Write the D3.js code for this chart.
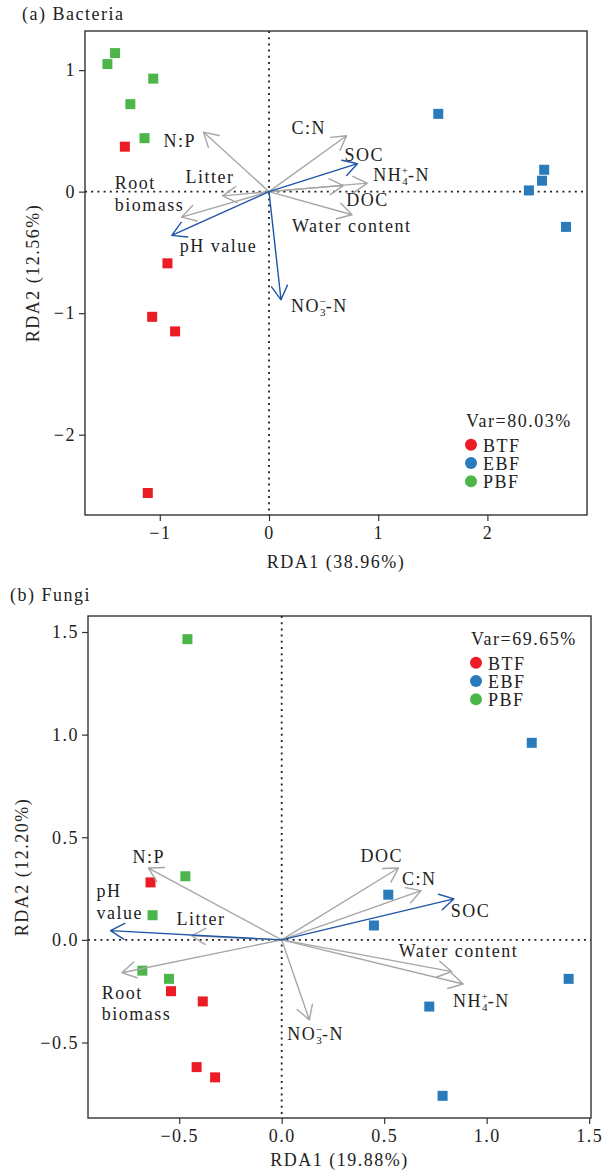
<!DOCTYPE html>
<html>
<head>
<meta charset="utf-8">
<script src="https://cdn.jsdelivr.net/npm/d3@7"></script>
<style>
  html, body { margin: 0; padding: 0; background: #fff; }
  svg { display: block; }
</style>
</head>
<body>
<svg id="chart" width="604" height="1170"></svg>
<script>
// ---------- data ----------
const groups = ["BTF", "EBF", "PBF"];

// (a) Bacteria – site scores
const bacSiteGroup = ["PBF","PBF","PBF","PBF","PBF",
                      "BTF","BTF","BTF","BTF","BTF",
                      "EBF","EBF","EBF","EBF","EBF"];
const bacSiteRDA1 = [-1.48, -1.41, -1.06, -1.27, -1.14,
                     -1.32, -0.93, -1.07, -0.86, -1.11,
                      1.55,  2.52,  2.50,  2.38,  2.72];
const bacSiteRDA2 = [ 1.05,  1.14,  0.93,  0.72,  0.44,
                      0.37, -0.59, -1.03, -1.15, -2.48,
                      0.64,  0.18,  0.09,  0.01, -0.29];

// (a) Bacteria – environmental vectors (sig = drawn in blue)
const bacVarName = ["N:P","Litter","Root biomass","C:N","DOC","NH4","Water content","SOC","pH value","NO3"];
const bacVarRDA1 = [-0.60, -0.425, -0.80, 0.71, 0.68, 0.90, 0.76, 0.81, -0.89, 0.11];
const bacVarRDA2 = [ 0.49, -0.035, -0.21, 0.46, 0.05, 0.07, -0.19, 0.23, -0.36, -0.89];
const bacVarSig  = [false, false, false, false, false, false, false, true, true, true];
const bacVar = "Var=80.03%";

// (b) Fungi – site scores
const funSiteGroup = ["PBF","PBF","PBF","PBF","PBF",
                      "BTF","BTF","BTF","BTF","BTF",
                      "EBF","EBF","EBF","EBF","EBF","EBF"];
const funSiteRDA1 = [-0.46, -0.47, -0.63, -0.68, -0.55,
                     -0.64, -0.54, -0.385, -0.415, -0.325,
                      1.22,  0.52,  0.45,  1.40,  0.72,  0.785];
const funSiteRDA2 = [ 1.465, 0.31,  0.12, -0.15, -0.19,
                      0.28, -0.25, -0.30, -0.62, -0.67,
                      0.96,  0.22,  0.07, -0.19, -0.325, -0.76];

// (b) Fungi – environmental vectors
const funVarName = ["N:P","Litter","Root biomass","NO3","DOC","C:N","Water content","NH4","pH value","SOC"];
const funVarRDA1 = [-0.65, -0.44, -0.78, 0.135, 0.57, 0.68, 0.83, 0.885, -0.835, 0.84];
const funVarRDA2 = [ 0.35,  0.02, -0.16, -0.39, 0.35, 0.24, -0.155, -0.215, 0.045, 0.20];
const funVarSig  = [false, false, false, false, false, false, false, false, true, true];
const funVar = "Var=69.65%";

// ---------- styling ----------
const FONT = "'Liberation Serif', 'Times New Roman', serif";
const FS = 18, LS = 1.5;
const groupColor = d3.scaleOrdinal().domain(groups).range(["#ec1c24", "#2a7bbb", "#4cb64a"]);
const GRAY = "#a6a6a6", BLUE = "#1f55a8";

const svg = d3.select("#chart");

// label placement relative to each arrow tip (px)
const bacLabelPos = {
  "N:P": [[-40, 15]], "Litter": [[-37, -13]], "Root biomass": [[-67, -28], [-67, -6]],
  "C:N": [[-55, -2]], "DOC": [[3, 20]], "NH4": [[6, -2]], "Water content": [[-60, 17]],
  "SOC": [[-13, -3]], "pH value": [[8, 17]], "NO3": [[10, 12]]
};
const funLabelPos = {
  "N:P": [[-16, -5]], "Litter": [[-15, -11]], "Root biomass": [[-20, 26], [-20, 47]],
  "NO3": [[-22, 20]], "DOC": [[-38, -6]], "C:N": [[-19, -6]], "Water content": [[-53, -15]],
  "NH4": [[-10, 23]], "pH value": [[-14, -34], [-14, -12]], "SOC": [[-3, 18]]
};

function writeLabel(g, name, x, y, pos) {
  const base = g.append("text")
    .attr("x", x + pos[0][0]).attr("y", y + pos[0][1])
    .attr("font-family", FONT).attr("font-size", FS)
    .attr("letter-spacing", LS).attr("fill", "#222");
  if (name === "NH4" || name === "NO3") {
    const main = name === "NH4" ? "NH" : "NO";
    const sub = name === "NH4" ? "4" : "3";
    const sup = name === "NH4" ? "+" : "\u2212";
    base.append("tspan").text(main);
    base.append("tspan").attr("font-size", 11).attr("letter-spacing", 0).attr("dy", 4).text(sub);
    base.append("tspan").attr("font-size", 11).attr("letter-spacing", 0).attr("dx", -6).attr("dy", -11).text(sup);
    base.append("tspan").attr("dy", 7).text("-N");
  } else if (pos.length === 2) {
    const parts = name === "Root biomass" ? ["Root", "biomass"] : ["pH", "value"];
    base.text(parts[0]);
    g.append("text")
      .attr("x", x + pos[1][0]).attr("y", y + pos[1][1])
      .attr("font-family", FONT).attr("font-size", FS)
      .attr("letter-spacing", LS).attr("fill", "#222").text(parts[1]);
  } else {
    base.text(name);
  }
}

function drawPanel(cfg) {
  const g = svg.append("g");
  const { left, right, top, bottom } = cfg.frame;
  const x = d3.scaleLinear().domain(cfg.xDomain).range([left, right]);
  const y = d3.scaleLinear().domain(cfg.yDomain).range([bottom, top]);

  // title
  g.append("text").attr("x", cfg.title[1]).attr("y", cfg.title[2])
    .attr("font-family", FONT).attr("font-size", FS).attr("letter-spacing", LS)
    .attr("fill", "#222").text(cfg.title[0]);

  // zero reference lines
  g.append("line").attr("x1", left).attr("x2", right).attr("y1", y(0)).attr("y2", y(0))
    .attr("stroke", "#222").attr("stroke-width", 1.8).attr("stroke-dasharray", "2,4.2");
  g.append("line").attr("x1", x(0)).attr("x2", x(0)).attr("y1", top).attr("y2", bottom)
    .attr("stroke", "#222").attr("stroke-width", 1.8).attr("stroke-dasharray", "2,4.2");

  // axes
  const ax = g.append("g").attr("transform", `translate(0,${bottom})`)
    .call(d3.axisBottom(x).tickValues(cfg.xTicks).tickFormat(d3.format(cfg.fmt)).tickSize(6).tickPadding(4));
  const ay = g.append("g").attr("transform", `translate(${left},0)`)
    .call(d3.axisLeft(y).tickValues(cfg.yTicks).tickFormat(d3.format(cfg.fmt)).tickSize(6).tickPadding(3));
  [ax, ay].forEach(a => {
    a.select(".domain").remove();
    a.selectAll(".tick line").attr("stroke", "#333").attr("stroke-width", 1.2);
    a.selectAll(".tick text").attr("font-family", FONT).attr("font-size", FS)
      .attr("letter-spacing", LS).attr("fill", "#222");
  });
  ax.selectAll(".tick text").attr("dy", "0.8em");

  // axis titles
  g.append("text").attr("x", (left + right) / 2).attr("y", cfg.xLabelY)
    .attr("text-anchor", "middle").attr("font-family", FONT).attr("font-size", FS)
    .attr("letter-spacing", LS).attr("fill", "#222").text(cfg.xLabel);
  g.append("text")
    .attr("transform", `translate(${cfg.yLabelX},${(top + bottom) / 2}) rotate(-90)`)
    .attr("text-anchor", "middle").attr("font-family", FONT).attr("font-size", FS)
    .attr("letter-spacing", LS).attr("fill", "#222").text(cfg.yLabel);

  // site points
  const SZ = 10;
  g.append("g").selectAll("rect").data(d3.range(cfg.siteGroup.length)).join("rect")
    .attr("x", i => x(cfg.siteX[i]) - SZ / 2)
    .attr("y", i => y(cfg.siteY[i]) - SZ / 2)
    .attr("width", SZ).attr("height", SZ)
    .attr("fill", i => groupColor(cfg.siteGroup[i]));

  // environmental arrows
  const ox = x(0), oy = y(0), HEAD = 16, ANG = Math.PI / 6;
  const ag = g.append("g").attr("fill", "none").attr("stroke-width", 1.4)
    .attr("stroke-linecap", "round").attr("stroke-linejoin", "round");
  const order = d3.range(cfg.varName.length).sort((a, b) => cfg.varSig[a] - cfg.varSig[b]);
  order.forEach(i => {
    const tx = x(cfg.varX[i]), ty = y(cfg.varY[i]);
    const th = Math.atan2(oy - ty, ox - tx);
    const col = cfg.varSig[i] ? BLUE : GRAY;
    const p = d3.path();
    p.moveTo(ox, oy); p.lineTo(tx, ty);
    p.moveTo(tx + HEAD * Math.cos(th + ANG), ty + HEAD * Math.sin(th + ANG));
    p.lineTo(tx, ty);
    p.lineTo(tx + HEAD * Math.cos(th - ANG), ty + HEAD * Math.sin(th - ANG));
    ag.append("path").attr("d", p.toString()).attr("stroke", col);
  });
  d3.range(cfg.varName.length).forEach(i => {
    writeLabel(g, cfg.varName[i], x(cfg.varX[i]), y(cfg.varY[i]), cfg.labelPos[cfg.varName[i]]);
  });

  // legend
  const lg = g.append("g");
  lg.append("text").attr("x", cfg.legend[0]).attr("y", cfg.legend[1])
    .attr("font-family", FONT).attr("font-size", FS).attr("letter-spacing", LS)
    .attr("fill", "#222").text(cfg.varText);
  groups.forEach((k, j) => {
    const cy = cfg.legend[1] + 17.8 + j * 18.2;
    lg.append("circle").attr("cx", cfg.legend[0] + 5).attr("cy", cy).attr("r", 6)
      .attr("fill", groupColor(k));
    lg.append("text").attr("x", cfg.legend[0] + 17).attr("y", cy + 7)
      .attr("font-family", FONT).attr("font-size", FS).attr("letter-spacing", LS)
      .attr("fill", "#222").text(k);
  });

  // frame
  g.append("rect").attr("x", left).attr("y", top)
    .attr("width", right - left).attr("height", bottom - top)
    .attr("fill", "none").attr("stroke", "#333").attr("stroke-width", 1.4);
}

drawPanel({
  frame: { left: 85, right: 587, top: 31, bottom: 515 },
  xDomain: [-1.685, 2.912], yDomain: [-2.661, 1.322],
  xTicks: [-1, 0, 1, 2], yTicks: [-2, -1, 0, 1], fmt: "d",
  title: ["(a) Bacteria", 22, 20],
  xLabel: "RDA1 (38.96%)", xLabelY: 568, yLabel: "RDA2 (12.56%)", yLabelX: 39,
  siteGroup: bacSiteGroup, siteX: bacSiteRDA1, siteY: bacSiteRDA2,
  varName: bacVarName, varX: bacVarRDA1, varY: bacVarRDA2, varSig: bacVarSig,
  labelPos: bacLabelPos, legend: [466, 427], varText: bacVar
});

drawPanel({
  frame: { left: 88, right: 591, top: 616, bottom: 1118 },
  xDomain: [-0.945, 1.509], yDomain: [-0.868, 1.578],
  xTicks: [-0.5, 0, 0.5, 1, 1.5], yTicks: [-0.5, 0, 0.5, 1, 1.5], fmt: ".1f",
  title: ["(b) Fungi", 10, 601],
  xLabel: "RDA1 (19.88%)", xLabelY: 1166, yLabel: "RDA2 (12.20%)", yLabelX: 28,
  siteGroup: funSiteGroup, siteX: funSiteRDA1, siteY: funSiteRDA2,
  varName: funVarName, varX: funVarRDA1, varY: funVarRDA2, varSig: funVarSig,
  labelPos: funLabelPos, legend: [471, 645], varText: funVar
});
</script>
</body>
</html>
